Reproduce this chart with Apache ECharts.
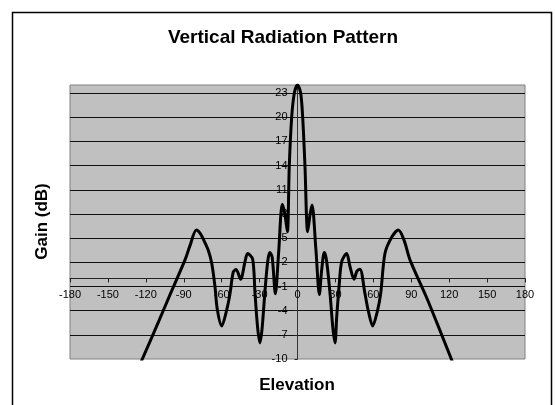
<!DOCTYPE html>
<html><head><meta charset="utf-8">
<script src="https://cdn.jsdelivr.net/npm/echarts@6/dist/echarts.min.js"></script>
<style>html,body{margin:0;padding:0;background:#fff}#c{width:555px;height:405px}</style>
</head><body><div id="c"></div>
<script>
const titleText = 'Vertical Radiation Pattern';
const xName = 'Elevation';
const yName = 'Gain (dB)';
const xTickValues = [-180, -150, -120, -90, -60, -30, 0, 30, 60, 90, 120, 150, 180];
const yTickValues = [-10, -7, -4, -1, 2, 5, 8, 11, 14, 17, 20, 23];
const yMax = 24;
const angles = [-125, -110, -100, -89, -85, -80, -77, -74, -70.6, -67.9, -65.3, -63.4, -60, -56, -53.4, -50.8, -48.6, -45, -41.5, -39.5, -35.5, -33.6, -31.5, -29.7, -28, -25.7, -23.5, -21.8, -20, -17.5, -15, -12, -10, -8, -6.5, -4.6, -2.5, 0, 2.5, 4.1, 5.9, 8, 10, 11.5, 14.6, 17.3, 19.1, 21.2, 23, 25.7, 28, 29.7, 31, 33.1, 35, 38.9, 41.5, 44.7, 47, 49.4, 53.4, 56, 59.5, 63, 65.8, 69.2, 74.5, 79.8, 84.3, 89, 102.2, 110, 125];
const gains = [-10.8, -5.4, -1.7, 2.3, 4.1, 6.0, 5.6, 4.7, 3.5, 1.9, -1.0, -3.9, -5.9, -3.9, -1.9, 0.8, 1.1, -0.1, 2.1, 3.1, 2.4, -1.9, -6.2, -8.0, -6.2, -1.5, 2.2, 3.2, 2.6, -1.9, 3.0, 9.2, 8.0, 5.8, 14, 20, 23, 24, 23, 20, 14, 5.8, 8.0, 9.1, 3.5, -2.0, 1.0, 3.2, 2.2, -1.8, -6.2, -8.0, -4.8, -0.6, 2.1, 3.1, 1.5, -0.1, 0.9, 1.15, -1.9, -4.0, -5.9, -4.2, -1.9, 3.1, 5.1, 6.0, 4.75, 2.3, -2.4, -5.4, -11.3];

const FONT = "'Liberation Sans', Arial, sans-serif";
const W = 555, H = 405;
const GRID = {left: 70, right: 30, top: 85, bottom: 46};
const chart = echarts.init(document.getElementById('c'), null, {renderer: 'canvas'});
const data = angles.map((a, i) => [a, gains[i]]);
chart.setOption({
  animation: false,
  backgroundColor: '#ffffff',
  grid: Object.assign({show: true, backgroundColor: '#c0c0c0', borderColor: '#808080', borderWidth: 1, containLabel: false, outerBoundsMode: 'none'}, GRID),
  xAxis: {
    type: 'value', position: 'bottom', min: xTickValues[0], max: xTickValues[xTickValues.length - 1], interval: xTickValues[1] - xTickValues[0],
    axisLine: {show: true, onZero: false, lineStyle: {color: '#222', width: 1}},
    axisTick: {show: true, length: 4, lineStyle: {color: '#222'}},
    axisLabel: {color: '#000', fontSize: 11, fontFamily: FONT, margin: 11},
    splitLine: {show: false}
  },
  yAxis: {
    type: 'value', position: 'left', min: yTickValues[0], max: yMax, interval: yTickValues[1] - yTickValues[0],
    axisLine: {show: true, onZero: false, lineStyle: {color: '#333', width: 1}},
    axisTick: {show: true, length: 3, lineStyle: {color: '#222'}},
    axisLabel: {color: '#000', fontSize: 11, fontFamily: FONT, margin: 10, showMaxLabel: false,
      formatter: v => yTickValues.indexOf(v) >= 0 ? String(v) : ''},
    splitLine: {show: true, showMinLine: false, showMaxLine: false, lineStyle: {color: '#111', width: 1}}
  },
  series: [{
    type: 'line', data: data, smooth: 0.3, symbol: 'none', clip: true,
    lineStyle: {color: '#000', width: 3}
  }],
  graphic: [
    {type: 'rect', shape: {x: 12.5, y: 12.5, width: 539, height: 410}, style: {fill: 'none', stroke: '#000', lineWidth: 1.5}, z: 100},
    {type: 'text', x: 283, y: 38, style: {text: titleText, font: "bold 19px " + FONT, fill: '#000', textAlign: 'center', textVerticalAlign: 'middle'}},
    {type: 'text', x: 297, y: 385, style: {text: xName, font: "bold 17px " + FONT, fill: '#000', textAlign: 'center', textVerticalAlign: 'middle'}},
    {type: 'text', x: 42, y: 221.5, rotation: Math.PI / 2, style: {text: yName, font: "bold 17px " + FONT, fill: '#000', textAlign: 'center', textVerticalAlign: 'middle'}}
  ]
});
// Move both axes (line, ticks, labels) to cross at zero, using the library's own scales
const x0 = chart.convertToPixel({xAxisIndex: 0}, 0);
const y0 = chart.convertToPixel({yAxisIndex: 0}, 0);
const gridBottomPx = H - GRID.bottom;
const gridLeftPx = GRID.left;
chart.setOption({
  xAxis: {offset: y0 - gridBottomPx},
  yAxis: {offset: gridLeftPx - x0}
});
</script></body></html>
